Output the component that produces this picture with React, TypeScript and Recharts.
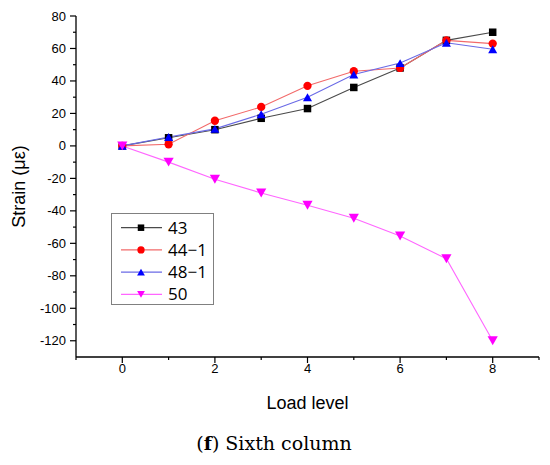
import React from 'react';
import { LineChart, Line, XAxis, YAxis, Legend } from 'recharts';

const levels = [0, 1, 2, 3, 4, 5, 6, 7, 8];
const s43 = [0, 5, 10, 17, 23, 36, 48, 65, 70];
const s44 = [0, 1, 15.5, 24, 37, 46, 48, 65, 63];
const s48 = [0, 5.5, 10.5, 19.5, 30, 44, 51, 63.5, 59.5];
const s50 = [0, -10, -20.5, -29, -36.5, -44.5, -55.5, -69.5, -120];

const seriesNames = ['43', '44\u22121', '48\u22121', '50'];
const xMajorTicks = [0, 2, 4, 6, 8];
const xMinorTicks = [-1, 1, 3, 5, 7, 9];
const yMajorTicks = [-120, -100, -80, -60, -40, -20, 0, 20, 40, 60, 80];
const yMinorTicks = [-110, -90, -70, -50, -30, -10, 10, 30, 50, 70];

const data = levels.map((l, i) => ({ level: l, s43: s43[i], s44: s44[i], s48: s48[i], s50: s50[i] }));

type Shape = 'square' | 'circle' | 'up' | 'down';
const series: { key: string; name: string; fill: string; line: string; shape: Shape }[] = [
  { key: 's43', name: seriesNames[0], fill: '#000000', line: '#4a4a4a', shape: 'square' },
  { key: 's44', name: seriesNames[1], fill: '#ff0000', line: '#f26a6a', shape: 'circle' },
  { key: 's48', name: seriesNames[2], fill: '#0000ff', line: '#6a6ae6', shape: 'up' },
  { key: 's50', name: seriesNames[3], fill: '#ff00ff', line: '#ff66ff', shape: 'down' },
];

function Marker({ cx, cy, shape, fill, s }: { cx: number; cy: number; shape: Shape; fill: string; s: number }) {
  if (cx == null || cy == null) return null;
  if (shape === 'square') {
    return <rect x={cx - s / 2} y={cy - s / 2} width={s} height={s} fill={fill} />;
  }
  if (shape === 'circle') {
    return <circle cx={cx} cy={cy} r={s / 2 + 0.4} fill={fill} />;
  }
  const w = s * 1.2;
  const h = s * 1.05;
  if (shape === 'up') {
    return <polygon points={`${cx - w / 2},${cy + h / 2} ${cx + w / 2},${cy + h / 2} ${cx},${cy - h / 2}`} fill={fill} />;
  }
  return <polygon points={`${cx - w / 2},${cy - h / 2} ${cx + w / 2},${cy - h / 2} ${cx},${cy + h / 2}`} fill={fill} />;
}

const tickFont = '"Liberation Sans", Arial, sans-serif';

function YTick(props: any) {
  const { x, y, payload } = props;
  const major = yMajorTicks.includes(payload.value);
  return (
    <g>
      <line x1={x - (major ? 6 : 3)} x2={x} y1={y} y2={y} stroke="#000" strokeWidth={1.2} />
      {major && (
        <text x={x - 10} y={y + 4.5} textAnchor="end" fontSize={13} fontFamily={tickFont} fill="#000">
          {payload.value}
        </text>
      )}
    </g>
  );
}

function XTick(props: any) {
  const { x, y, payload } = props;
  const major = xMajorTicks.includes(payload.value);
  return (
    <g>
      <line x1={x} x2={x} y1={y} y2={y + (major ? 6 : 3)} stroke="#000" strokeWidth={1.2} />
      {major && (
        <text x={x} y={y + 16} textAnchor="middle" fontSize={13} fontFamily={tickFont} fill="#000">
          {payload.value}
        </text>
      )}
    </g>
  );
}

function LegendBox(props: any) {
  const payload = props.payload || [];
  return (
    <svg width={103} height={92} style={{ display: 'block' }}>
      <rect x={0.5} y={0.5} width={102} height={91} fill="#fff" stroke="#808080" strokeWidth={1} />
      {payload.map((p: any, i: number) => {
        const cfg = series.find((s) => s.key === p.dataKey) || series[i];
        const yy = 14.7 + i * 22.2;
        return (
          <g key={cfg.key}>
            <line x1={10} x2={51} y1={yy} y2={yy} stroke={cfg.line} strokeWidth={1.2} />
            <Marker cx={30} cy={yy} shape={cfg.shape} fill={cfg.fill} s={6.5} />
            <text x={57} y={yy + 6} fontSize={17} fontFamily='"Open Sans", sans-serif' fill="#000">
              {cfg.name}
            </text>
          </g>
        );
      })}
    </svg>
  );
}

export default function App() {
  return (
    <div style={{ position: 'absolute', left: 0, top: 0, width: 550, height: 465, background: '#fff' }}>
      <LineChart width={550} height={465} data={data} margin={{ top: 16, right: 11, left: 0, bottom: 0 }}>
        <XAxis
          dataKey="level"
          type="number"
          domain={[-1, 9]}
          ticks={[...xMinorTicks, ...xMajorTicks].sort((a, b) => a - b)}
          interval={0}
          height={108}
          tickLine={false}
          tickSize={0}
          tickMargin={0}
          axisLine={{ stroke: '#000', strokeWidth: 1.3 }}
          tick={<XTick />}
          label={(lp: any) => {
            const vb = lp.viewBox || {};
            return (
              <text x={vb.x + vb.width / 2} y={409} textAnchor="middle" fontSize={18} fontFamily={tickFont} fill="#000">
                Load level
              </text>
            );
          }}
        />
        <YAxis
          type="number"
          domain={[-130, 80]}
          ticks={[...yMinorTicks, ...yMajorTicks].sort((a, b) => a - b)}
          interval={0}
          width={76}
          tickLine={false}
          tickSize={0}
          tickMargin={0}
          axisLine={{ stroke: '#000', strokeWidth: 1.3 }}
          tick={<YTick />}
          label={(lp: any) => {
            const vb = lp.viewBox || {};
            const cy = vb.y + vb.height / 2;
            return (
              <text x={25} y={cy} transform={`rotate(-90, 25, ${cy})`} textAnchor="middle" fontSize={18} fontFamily={tickFont} fill="#000">
                Strain (με)
              </text>
            );
          }}
        />
        <Legend
          layout="vertical"
          align="center"
          verticalAlign="middle"
          content={<LegendBox />}
          wrapperStyle={{ position: 'absolute', left: 111, top: 213, width: 103, height: 92 }}
        />
        {series.map((s) => (
          <Line
            key={s.key}
            dataKey={s.key}
            name={s.name}
            type="linear"
            stroke={s.line}
            strokeWidth={1.1}
            isAnimationActive={false}
            legendType="line"
            dot={(p: any) => (
              <Marker key={`${s.key}-${p.index}`} cx={p.cx} cy={p.cy} shape={s.shape} fill={s.fill} s={s.shape === 'down' ? 8.5 : 7.5} />
            )}
            activeDot={false}
          />
        ))}
      </LineChart>
      <svg width={550} height={465} style={{ position: 'absolute', left: 0, top: 0, pointerEvents: 'none' }}>
        <text x={274} y={450} textAnchor="middle" fontSize={19} fontFamily='"DejaVu Serif", serif' fill="#000">
          (<tspan fontWeight="bold">f</tspan>) Sixth column
        </text>
      </svg>
    </div>
  );
}
